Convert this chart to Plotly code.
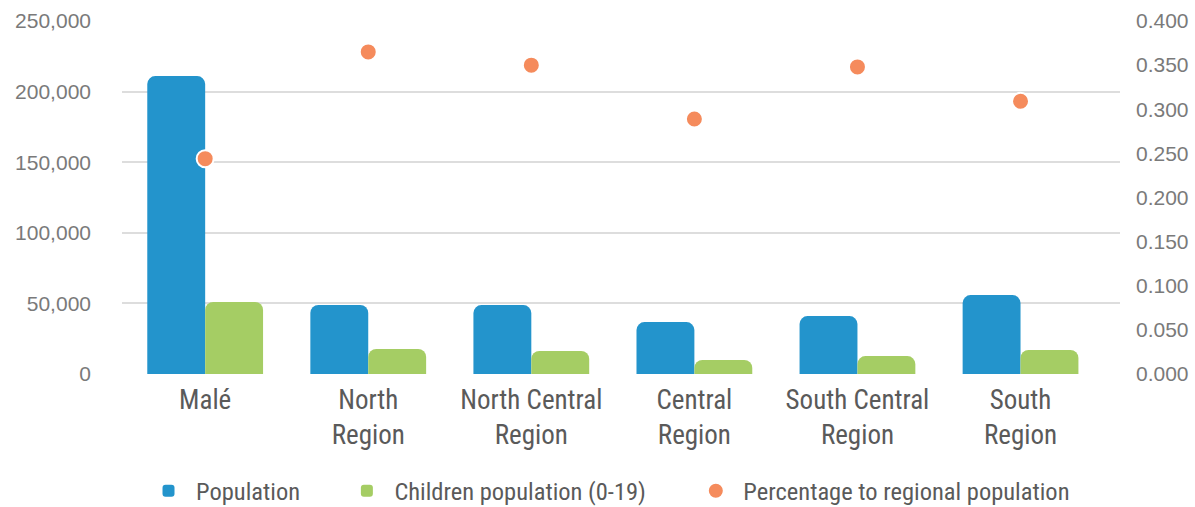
import plotly.graph_objects as go

# Regional population figures
regions = ["Malé", "North<br>Region", "North Central<br>Region", "Central<br>Region",
           "South Central<br>Region", "South<br>Region"]
population = [211000, 48900, 48800, 36800, 41000, 55900]
children = [51000, 17700, 16300, 9900, 12700, 17000]
share = [0.244, 0.365, 0.350, 0.289, 0.348, 0.309]

BLUE = "#2394CC"
GREEN = "#A5CD64"
ORANGE = "#F58B5C"
NARROW = "Roboto Condensed, DejaVu Sans Condensed, sans-serif"
TICKFONT = dict(family="Liberation Sans, Arial, sans-serif", size=21, color="#7a7a7a")

fig = go.Figure()
fig.add_trace(go.Bar(x=regions, y=population, name="Population",
                     marker=dict(color=BLUE, line=dict(width=0)), legend="legend"))
fig.add_trace(go.Bar(x=regions, y=children, name="Children population (0-19)",
                     marker=dict(color=GREEN, line=dict(width=0)), legend="legend2"))
fig.add_trace(go.Scatter(x=regions, y=share, name="Percentage to regional population",
                         mode="markers", yaxis="y2", legend="legend3",
                         marker=dict(color=ORANGE, size=17, line=dict(color="white", width=2))))

legend_common = dict(orientation="h", xref="container", yref="container",
                     yanchor="middle", y=0.032, xanchor="left", itemwidth=45,
                     bgcolor="rgba(0,0,0,0)", borderwidth=0,
                     font=dict(family=NARROW, size=24.5, color="#5a5a5a"))

fig.update_layout(
    width=1195, height=507,
    margin=dict(l=122, r=75, t=21, b=133, autoexpand=False),
    paper_bgcolor="white", plot_bgcolor="white",
    showlegend=True,
    barmode="group", bargap=0.29, bargroupgap=0, barcornerradius=8,
    xaxis=dict(range=[-0.51, 5.61], showgrid=False, zeroline=False, showline=False,
               automargin=False, ticks="",
               tickfont=dict(family=NARROW, size=27, color="#5a5a5a"),
               ticklabelstandoff=7),
    yaxis=dict(range=[0, 250000], dtick=50000, tickformat=",", showgrid=True,
               gridcolor="#dddddd", gridwidth=2, zeroline=False, showline=False,
               automargin=False, ticks="", tickfont=TICKFONT, ticklabelstandoff=30),
    yaxis2=dict(range=[0, 0.4], dtick=0.05, tickformat=".3f", overlaying="y",
                side="right", showgrid=False, zeroline=False, showline=False,
                automargin=False, ticks="", tickfont=TICKFONT, ticklabelstandoff=15),
    legend=dict(x=0.118, **legend_common),
    legend2=dict(x=0.284, **legend_common),
    legend3=dict(x=0.576, **legend_common),
)

fig.write_html("out.html")
